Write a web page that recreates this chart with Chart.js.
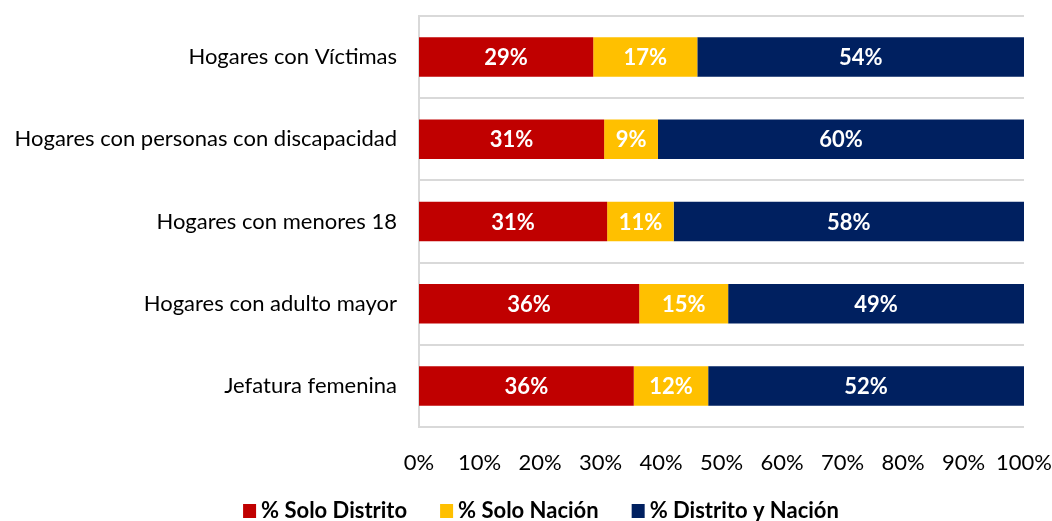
<!DOCTYPE html>
<html>
<head>
<meta charset="utf-8">
<script src="https://cdn.jsdelivr.net/npm/chart.js@4.4.1/dist/chart.umd.min.js"></script>
<style>
  html, body { margin: 0; padding: 0; background: #fff; }
  #marco { width: 1052px; height: 521px; }
</style>
</head>
<body>
<div id="marco"><canvas id="grafico" width="1052" height="521"></canvas></div>
<script>
const categorias = [
  'Hogares con Víctimas',
  'Hogares con personas con discapacidad',
  'Hogares con menores 18',
  'Hogares con adulto mayor',
  'Jefatura femenina'
];
const soloDistrito = [28.8, 30.6, 31.1, 36.4, 35.5];
const soloNacion = [17.2, 8.9, 11.0, 14.7, 12.3];
const distritoNacion = [54.0, 60.5, 57.9, 48.9, 52.2];
const etiquetasDistrito = ['29%', '31%', '31%', '36%', '36%'];
const etiquetasNacion = ['17%', '9%', '11%', '15%', '12%'];
const etiquetasAmbos = ['54%', '60%', '58%', '49%', '52%'];

const FUENTE = 'Lato, "Open Sans", sans-serif';

// dibuja los porcentajes dentro de cada tramo de barra
const etiquetasPlugin = {
  id: 'etiquetas',
  afterDatasetsDraw(chart) {
    const ctx = chart.ctx;
    ctx.save();
    ctx.font = 'bold 22px ' + FUENTE;
    ctx.fillStyle = '#ffffff';
    ctx.textAlign = 'center';
    ctx.textBaseline = 'middle';
    chart.data.datasets.forEach((ds, i) => {
      const meta = chart.getDatasetMeta(i);
      meta.data.forEach((bar, j) => {
        const cx = (bar.x + bar.base) / 2;
        ctx.fillText(ds.etiquetas[j], cx, bar.y + 1);
      });
    });
    ctx.restore();
  }
};

// leyenda propia abajo, con los colores de cada serie
const leyendaPlugin = {
  id: 'leyenda',
  afterDraw(chart) {
    const ctx = chart.ctx;
    const cajaW = 13, cajaH = 14, hueco = 5, separacion = 33;
    const yMedio = 511;
    ctx.save();
    ctx.font = 'bold 22px ' + FUENTE;
    ctx.textBaseline = 'middle';
    const items = chart.data.datasets.map(ds => ({
      texto: ds.label,
      color: ds.backgroundColor,
      ancho: ctx.measureText(ds.label).width
    }));
    let total = 0;
    items.forEach((it, i) => {
      total += cajaW + hueco + it.ancho + (i < items.length - 1 ? separacion : 0);
    });
    let x = 541 - total / 2;
    items.forEach(it => {
      ctx.fillStyle = it.color;
      ctx.fillRect(x, yMedio - cajaH / 2, cajaW, cajaH);
      x += cajaW + hueco;
      ctx.fillStyle = '#000';
      ctx.fillText(it.texto, x, yMedio);
      x += it.ancho + separacion;
    });
    ctx.restore();
  }
};

new Chart(document.getElementById('grafico'), {
  type: 'bar',
  data: {
    labels: categorias,
    datasets: [
      { label: '% Solo Distrito', data: soloDistrito, etiquetas: etiquetasDistrito, backgroundColor: '#C00000' },
      { label: '% Solo Nación', data: soloNacion, etiquetas: etiquetasNacion, backgroundColor: '#FFC000' },
      { label: '% Distrito y Nación', data: distritoNacion, etiquetas: etiquetasAmbos, backgroundColor: '#002060' }
    ]
  },
  options: {
    indexAxis: 'y',
    responsive: false,
    animation: false,
    barPercentage: 0.48,
    categoryPercentage: 1,
    layout: { padding: { top: 16, right: 28, left: 0, bottom: 34 } },
    scales: {
      x: {
        stacked: true,
        min: 0,
        max: 100,
        grid: { display: false },
        border: { display: false },
        ticks: {
          stepSize: 10,
          callback: v => v + '%',
          color: '#000',
          font: { family: FUENTE, size: 22 },
          padding: 15,
          maxRotation: 0
        },
        afterFit: s => { s.height = 60; s.paddingLeft = 0; s.paddingRight = 0; }
      },
      y: {
        stacked: true,
        grid: { color: '#d9d9d9', lineWidth: 2, drawTicks: false },
        border: { display: true, color: '#d9d9d9', width: 2 },
        ticks: {
          color: '#000',
          font: { family: FUENTE, size: 22 },
          padding: 22
        },
        afterFit: s => { s.width = 419; s.paddingTop = 0; s.paddingBottom = 0; }
      }
    },
    plugins: {
      legend: { display: false },
      tooltip: { enabled: false }
    }
  },
  plugins: [etiquetasPlugin, leyendaPlugin]
});
</script>
</body>
</html>
